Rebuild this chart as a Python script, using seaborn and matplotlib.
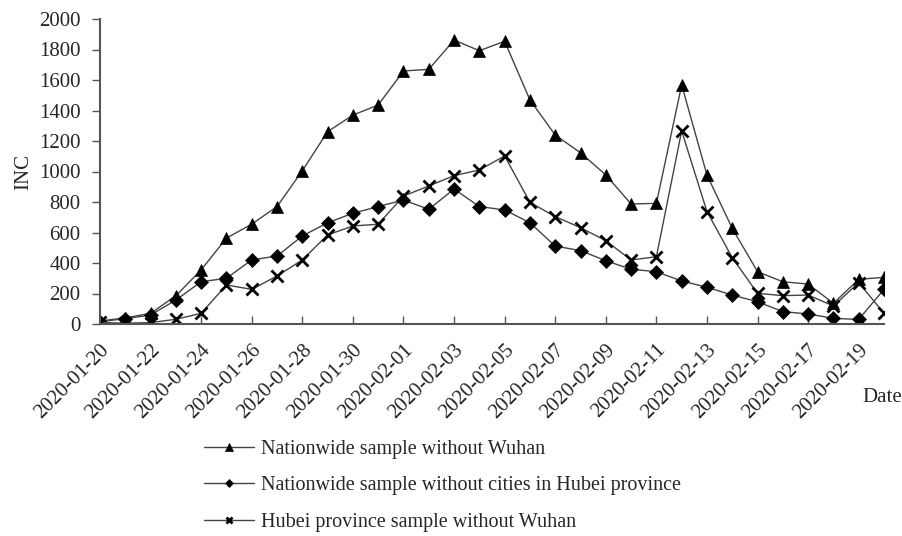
import numpy as np
import pandas as pd
import matplotlib
matplotlib.use("Agg")
import matplotlib.pyplot as plt
import seaborn as sns

dates = pd.date_range("2020-01-20", "2020-02-20", freq="D").strftime("%Y-%m-%d").tolist()

nationwide_no_wuhan = [20, 40, 70, 185, 355, 563, 655, 770, 1005,
                       1261, 1370, 1436, 1659, 1670, 1862, 1792, 1854,
                       1469, 1239, 1123, 977, 787, 791, 1567, 977, 627,
                       343, 277, 262, 136, 293, 306]
nationwide_no_hubei = [15, 35, 59, 157, 277, 300, 420, 446, 577,
                       664, 726, 770, 813, 752, 885, 770, 748,
                       664, 511, 481, 415, 359, 343, 282, 241, 190,
                       146, 81, 66, 37, 30, 227]
hubei_no_wuhan = [10, 5, 9, 31, 70, 256, 227, 315, 420,
                  584, 643, 654, 839, 905, 973, 1010, 1102,
                  798, 704, 632, 546, 420, 441, 1266, 737, 435,
                  201, 186, 190, 118, 271, 70]

series_names = ["Nationwide sample without Wuhan",
                "Nationwide sample without cities in Hubei province",
                "Hubei province sample without Wuhan"]

df = pd.DataFrame({
    "idx": np.arange(len(dates)),
    series_names[0]: nationwide_no_wuhan,
    series_names[1]: nationwide_no_hubei,
    series_names[2]: hubei_no_wuhan,
})

sns.set_theme(style="white")
plt.rcParams["font.family"] = ["Liberation Serif", "DejaVu Serif"]

fig = plt.figure(figsize=(9.03, 5.36), dpi=100)
ax = fig.add_axes([100 / 903, 1 - 324 / 536, (884 - 100) / 903, (324 - 19) / 536])

styles = [
    dict(marker="^", markersize=9, markeredgewidth=0.5),
    dict(marker="D", markersize=7.5, markeredgewidth=0.5),
    dict(marker="x", markersize=8, markeredgewidth=2),
]
for name, st in zip(series_names, styles):
    sns.lineplot(data=df, x="idx", y=name, ax=ax, color="#444444", linewidth=1.0,
                 markerfacecolor="black", markeredgecolor="black", label=name, **st)

ax.set_xlim(0, len(dates) - 1)
ax.set_ylim(0, 2000)
ax.set_yticks(np.arange(0, 2001, 200))
ax.set_yticklabels([str(v) for v in range(0, 2001, 200)], fontsize=15)
ticks = np.arange(0, len(dates), 2)
ax.set_xticks(ticks)
ax.set_xticklabels([dates[i] for i in ticks], rotation=45, ha="right",
                   rotation_mode="anchor", fontsize=15)

for side in ["top", "right"]:
    ax.spines[side].set_visible(False)
for side in ["left", "bottom"]:
    ax.spines[side].set_color("#555555")
    ax.spines[side].set_linewidth(1.5)
ax.tick_params(axis="y", direction="out", length=6, width=1, color="#555555", pad=8, left=True)
ax.tick_params(axis="x", direction="in", length=6, width=1, color="#555555", pad=12, bottom=True)

ax.set_ylabel("INC", fontsize=15, labelpad=4)
ax.set_xlabel("")
fig.text(862 / 903, 1 - 397 / 536, "Date", fontsize=15, va="center", ha="left")

ax.get_legend().remove()
handles, labels = ax.get_legend_handles_labels()
fig.legend(handles, labels, loc="upper left", bbox_to_anchor=(196 / 903, 1 - 432 / 536),
           frameon=False, fontsize=14.5, handlelength=2.5, handletextpad=0.35,
           labelspacing=0.85, borderaxespad=0, markerscale=0.6)

fig.savefig("out.png", dpi=100)
